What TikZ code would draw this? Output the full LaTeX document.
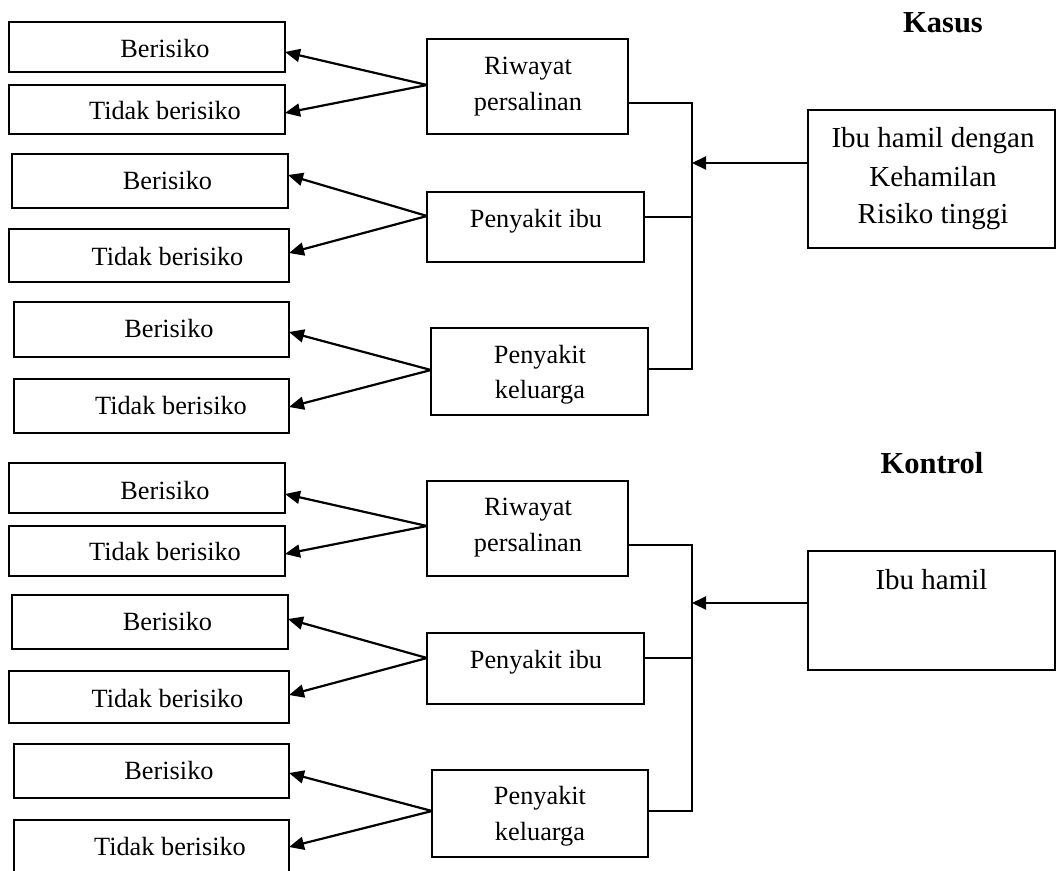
\documentclass[tikz,border=0pt]{standalone}
\usepackage{fontspec}
\setmainfont{Liberation Serif}
\usetikzlibrary{arrows.meta}
\newcommand\mybox[5]{\node[boxst, minimum width={(#4-#2)*1pt}, minimum height={(#5-#3)*1pt}] (#1) at ({(#2+#4)/2},{(#3+#5)/2}) {};}
\begin{document}
\begin{tikzpicture}[x=1pt,y=-1pt,
  boxst/.style={draw, line width=1.8pt, inner sep=0pt, rectangle},
  lt/.style={font=\fontsize{26.3}{31}\selectfont, anchor=base, inner sep=0pt},
  rt/.style={font=\fontsize{29}{35}\selectfont, anchor=base, inner sep=0pt},
  ht/.style={font=\fontsize{30.5}{36}\selectfont\bfseries, anchor=base, inner sep=0pt},
  arr/.style={line width=2.2pt, -{Triangle[length=15pt,width=13pt]}},
  tree/.style={line width=1.7pt},
  harr/.style={line width=2.2pt, -{Triangle[length=14pt,width=13pt]}}]
\useasboundingbox (0,0) rectangle (1056,870);
% ---------- left boxes ----------
\mybox{L1}{9}{22}{285}{72}
\mybox{L2}{9}{85}{285}{134}
\mybox{L3}{12}{154}{288}{208}
\mybox{L4}{9}{229}{289}{282}
\mybox{L5}{14}{302}{289}{357}
\mybox{L6}{14}{379}{289}{433}
\mybox{L7}{9}{463}{285}{513}
\mybox{L8}{9}{526}{285}{576}
\mybox{L9}{12}{595}{288}{649}
\mybox{L10}{9}{671}{289}{723}
\mybox{L11}{14}{744}{289}{798}
\mybox{L12}{14}{820}{289}{880}
\node[lt] (tL1) at (165,57) {Berisiko};
\node[lt] (tL2) at (165,119) {Tidak berisiko};
\node[lt] (tL3) at (167.5,189) {Berisiko};
\node[lt] (tL4) at (167.5,265) {Tidak berisiko};
\node[lt] (tL5) at (169,337) {Berisiko};
\node[lt] (tL6) at (171,414) {Tidak berisiko};
\node[lt] (tL7) at (165,499) {Berisiko};
\node[lt] (tL8) at (165,560) {Tidak berisiko};
\node[lt] (tL9) at (167.5,630) {Berisiko};
\node[lt] (tL10) at (167.5,707) {Tidak berisiko};
\node[lt] (tL11) at (169,779) {Berisiko};
\node[lt] (tL12) at (170,855) {Tidak berisiko};
% ---------- middle boxes ----------
\mybox{M1}{427}{39}{628}{134}
\mybox{M2}{427}{192}{644}{262}
\mybox{M3}{431}{328}{648}{415}
\mybox{M4}{427}{481}{628}{576}
\mybox{M5}{427}{633}{644}{704}
\mybox{M6}{432}{770}{648}{857}
\node[lt] (tM1a) at (528,74) {Riwayat};
\node[lt] (tM1b) at (528,110) {persalinan};
\node[lt] (tM2) at (536,227) {Penyakit ibu};
\node[lt] (tM3a) at (540,363) {Penyakit};
\node[lt] (tM3b) at (540,398) {keluarga};
\node[lt] (tM4a) at (528,515) {Riwayat};
\node[lt] (tM4b) at (528,551) {persalinan};
\node[lt] (tM5) at (536,668) {Penyakit ibu};
\node[lt] (tM6a) at (540,804) {Penyakit};
\node[lt] (tM6b) at (540,840) {keluarga};
% ---------- right boxes ----------
\mybox{R1}{808}{110}{1055}{248}
\mybox{R2}{808}{551}{1055}{670}
\node[rt] (tR1a) at (933,147) {Ibu hamil dengan};
\node[rt] (tR1b) at (933,186) {Kehamilan};
\node[rt] (tR1c) at (933,223) {Risiko tinggi};
\node[rt] (tR2) at (931.5,589) {Ibu hamil};
\node[ht] (kasus) at (943,32) {Kasus};
\node[ht] (kontrol) at (932,473) {Kontrol};
% ---------- arrow coordinates ----------
\coordinate (o1) at (427,85);  \coordinate (p1) at (285,52);  \coordinate (p2) at (285,113);
\coordinate (o2) at (427,216); \coordinate (p3) at (288,175); \coordinate (p4) at (289,253);
\coordinate (o3) at (431,370); \coordinate (p5) at (289,332); \coordinate (p6) at (289,407);
\coordinate (o4) at (427,526); \coordinate (p7) at (285,494); \coordinate (p8) at (285,554);
\coordinate (o5) at (427,658); \coordinate (p9) at (288,619); \coordinate (p10) at (289,695);
\coordinate (o6) at (432,811); \coordinate (p11) at (289,773); \coordinate (p12) at (289,847);
\foreach \o/\a/\b in {o1/p1/p2,o2/p3/p4,o3/p5/p6,o4/p7/p8,o5/p9/p10,o6/p11/p12}{
  \draw[arr] (\o) -- (\a);
  \draw[arr] (\o) -- (\b);
}
% ---------- tree (top) ----------
\coordinate (a1) at (628,103); \coordinate (a2) at (644,217); \coordinate (a3) at (648,369);
\coordinate (j1) at (692,103); \coordinate (j2) at (692,217); \coordinate (j3) at (692,369);
\coordinate (jm1) at (692,163); \coordinate (rs1) at (808,163);
\draw[tree] (a1) -- (j1) -- (j3) -- (a3);
\draw[tree] (a2) -- (j2);
\draw[harr] (rs1) -- (jm1);
% ---------- tree (bottom) ----------
\coordinate (b1) at (628,545); \coordinate (b2) at (644,658); \coordinate (b3) at (648,811);
\coordinate (k1) at (692,545); \coordinate (k2) at (692,658); \coordinate (k3) at (692,811);
\coordinate (km1) at (692,603); \coordinate (rs2) at (808,603);
\draw[tree] (b1) -- (k1) -- (k3) -- (b3);
\draw[tree] (b2) -- (k2);
\draw[harr] (rs2) -- (km1);
\end{tikzpicture}
\end{document}
